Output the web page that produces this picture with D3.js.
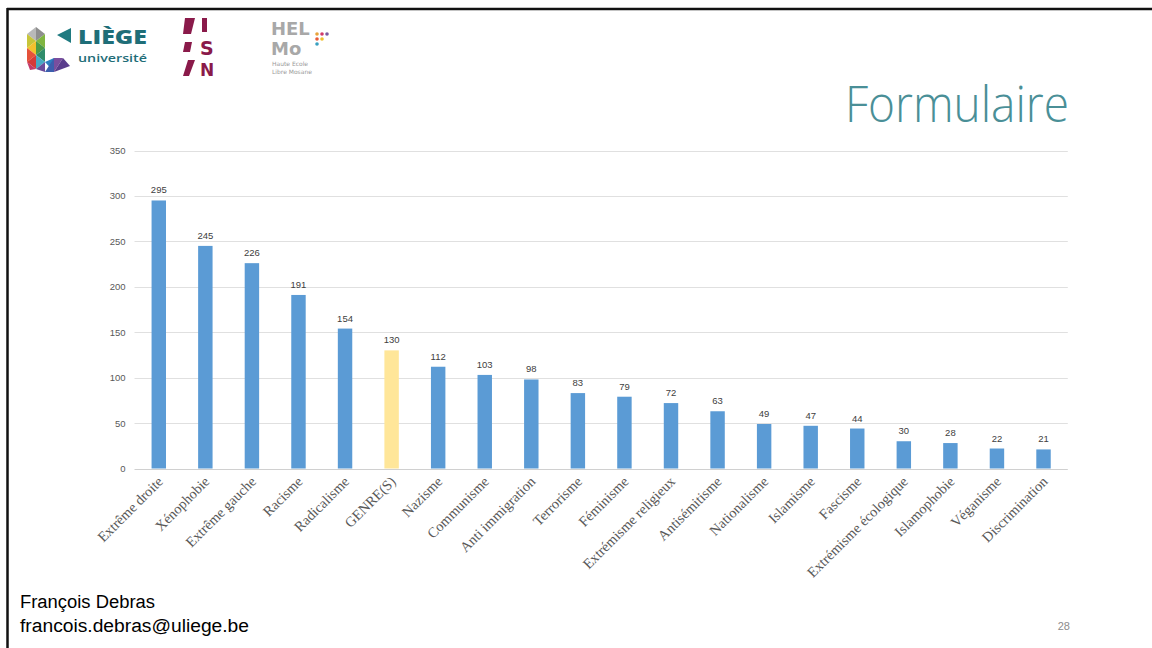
<!DOCTYPE html>
<html><head><meta charset="utf-8">
<script src="https://cdn.jsdelivr.net/npm/d3@7"></script>
<style>
html,body{margin:0;padding:0;background:#fff;}
svg{display:block;}
</style></head>
<body>
<script>
const categories = ["Extrême droite","Xénophobie","Extrême gauche","Racisme","Radicalisme","GENRE(S)","Nazisme","Communisme","Anti immigration","Terrorisme","Féminisme","Extrémisme religieux","Antisémitisme","Nationalisme","Islamisme","Fascisme","Extrémisme écologique","Islamophobie","Véganisme","Discrimination"];
const values = [295,245,226,191,154,130,112,103,98,83,79,72,63,49,47,44,30,28,22,21];
const highlight = ["GENRE(S)"];
const yTicks = [0,50,100,150,200,250,300,350];

(function(){
const W = 1152, H = 648;
const svg = d3.select("body").append("svg").attr("width", W).attr("height", H);
svg.append("rect").attr("width", W).attr("height", H).attr("fill", "#fff");

// slide border (top & left)
svg.append("line").attr("x1",7).attr("x2",W).attr("y1",9).attr("y2",9).attr("stroke","#111").attr("stroke-width",2.5);
svg.append("line").attr("x1",7.5).attr("x2",7.5).attr("y1",8).attr("y2",H).attr("stroke","#111").attr("stroke-width",2.5);

// ---- Logos ----
const lg = svg.append("g");
const tri = [
 [[27,34],[36,27],[36,41],"#b9b9b9"],[[36,27],[45,34],[36,41],"#8e8e8e"],
 [[27,34],[36,41],[27,48],"#c7c53a"],[[36,41],[45,34],[45,48],"#7fb541"],
 [[27,48],[36,41],[36,55],"#f2c12e"],[[36,41],[45,48],[36,55],"#4c9a45"],
 [[27,48],[36,55],[27,62],"#e5523a"],[[36,55],[45,48],[45,62],"#2f8c6a"],
 [[27,62],[36,55],[36,69],"#d63a3a"],[[36,55],[45,62],[36,69],"#48a9c5"],
 [[36,69],[45,62],[45,72],"#6a4b9b"],[[45,62],[54,58],[54,72],"#2e7fc0"],
 [[45,72],[54,58],[54,72],"#3d5fae"],[[54,58],[63,58],[54,72],"#7a4e9e"],
 [[54,72],[63,58],[70,66],"#5a3d8c"],[[27,62],[36,69],[30,70],"#c43a6a"]
];
tri.forEach(t => lg.append("polygon").attr("points",[t[0],t[1],t[2]].map(p=>p.join(",")).join(" ")).attr("fill",t[3]));
lg.append("polygon").attr("points","57,35 71,28 71,43").attr("fill","#1f7a80");
lg.append("text").attr("x",78).attr("y",44).attr("font-family","Open Sans, sans-serif").attr("font-weight",800).attr("font-size",19)
  .attr("textLength",69).attr("lengthAdjust","spacingAndGlyphs").attr("fill","#1f6e78").text("LIÈGE");
lg.append("text").attr("x",78).attr("y",62).attr("font-family","Open Sans, sans-serif").attr("font-weight",600).attr("font-size",11)
  .attr("textLength",69).attr("lengthAdjust","spacingAndGlyphs").attr("fill","#1f6e78").text("université");
// USN
const mar = "#8a1a4a";
lg.append("polygon").attr("points","185,18 195,18 191,34 183,34").attr("fill",mar);
lg.append("polygon").attr("points","185,42 192,42 190,52 183,52").attr("fill",mar);
lg.append("polygon").attr("points","188,60 195,60 189,76 183,76").attr("fill",mar);
lg.append("rect").attr("x",202).attr("y",18).attr("width",5).attr("height",14).attr("fill",mar);
lg.append("text").attr("x",200).attr("y",55).attr("font-family","DejaVu Sans, sans-serif").attr("font-weight",700).attr("font-size",19).attr("fill",mar).text("S");
lg.append("text").attr("x",200).attr("y",76).attr("font-family","DejaVu Sans, sans-serif").attr("font-weight",700).attr("font-size",17).attr("fill",mar).text("N");
// HELMo
lg.append("text").attr("x",271).attr("y",35).attr("font-family","DejaVu Sans, sans-serif").attr("font-weight",700).attr("font-size",18).attr("fill","#a8a8a8").text("HEL");
lg.append("text").attr("x",271).attr("y",55).attr("font-family","DejaVu Sans, sans-serif").attr("font-weight",700).attr("font-size",18).attr("fill","#a8a8a8").text("Mo");
[[317,34,"#e8a33a"],[322,34,"#d23a6a"],[327,34,"#7a5aa0"],[317,39,"#e85a3a"],[322,39,"#f0c030"],[317,44,"#3aa0c0"]].forEach(d=>lg.append("circle").attr("cx",d[0]).attr("cy",d[1]).attr("r",1.8).attr("fill",d[2]));
lg.append("text").attr("x",272).attr("y",66).attr("font-family","DejaVu Sans, sans-serif").attr("font-size",6).attr("fill","#9a9a9a").text("Haute Ecole");
lg.append("text").attr("x",272).attr("y",74).attr("font-family","DejaVu Sans, sans-serif").attr("font-size",6).attr("fill","#9a9a9a").text("Libre Mosane");

// Title
svg.append("text").attr("x",1069).attr("y",122).attr("text-anchor","end")
  .attr("font-family","Open Sans, sans-serif").attr("font-weight",300).attr("font-size",50)
  .attr("textLength",224).attr("lengthAdjust","spacingAndGlyphs")
  .attr("fill","#4a8f97").text("Formulaire");

// ---- Chart ----
const pL = 135.5, pR = 1066.8, pT = 150.5, pB = 468.5;
const x = d3.scaleBand().domain(categories).range([pL, pR]).paddingInner(0.69).paddingOuter(0.345);
const y = d3.scaleLinear().domain([0,350]).range([pB, pT]);

const g = svg.append("g");
g.selectAll("line.grid").data(yTicks).join("line")
  .attr("x1", pL - 1).attr("x2", pR + 1)
  .attr("y1", d => Math.round(y(d)) + 0.5).attr("y2", d => Math.round(y(d)) + 0.5)
  .attr("stroke", d => d === 0 ? "#d0d0d0" : "#e0e0e0").attr("stroke-width", 1);

const yAxis = d3.axisLeft(y).tickValues(yTicks).tickSize(0).tickPadding(0);
const ya = g.append("g").attr("transform", `translate(${pL - 10},0)`).call(yAxis);
ya.select(".domain").remove();
ya.selectAll("text").attr("font-family","Liberation Sans, Arial, sans-serif").attr("font-size",9.5).attr("fill","#595959").attr("dy","0.32em");

g.selectAll("rect.bar").data(categories).join("rect")
  .attr("x", d => x(d)).attr("width", x.bandwidth())
  .attr("y", (d,i) => y(values[i])).attr("height", (d,i) => y(0) - y(values[i]))
  .attr("fill", d => highlight.includes(d) ? "#ffe699" : "#5b9bd5");

g.selectAll("text.val").data(categories).join("text")
  .attr("x", d => x(d) + x.bandwidth()/2).attr("y", (d,i) => y(values[i]) - 7)
  .attr("text-anchor","middle").attr("font-family","Liberation Sans, Arial, sans-serif")
  .attr("font-size",9.5).attr("fill","#404040").text((d,i) => values[i]);

const xAxis = d3.axisBottom(x).tickSize(0).tickPadding(0);
const xa = g.append("g").attr("transform", `translate(0,${pB})`).call(xAxis);
xa.select(".domain").remove();
xa.selectAll("text")
  .attr("font-family","Liberation Serif, Times New Roman, serif").attr("font-size",14.3).attr("fill","#595959")
  .attr("text-anchor","end").attr("dy",0).attr("y",0)
  .attr("transform","translate(5,14) rotate(-45)");

svg.append("text").attr("x",20).attr("y",608).attr("font-family","Liberation Sans, Arial, sans-serif").attr("font-size",18)
  .attr("textLength",135).attr("lengthAdjust","spacingAndGlyphs").attr("fill","#000").text("François Debras");
svg.append("text").attr("x",20).attr("y",632).attr("font-family","Liberation Sans, Arial, sans-serif").attr("font-size",18)
  .attr("textLength",229).attr("lengthAdjust","spacingAndGlyphs").attr("fill","#000").text("francois.debras@uliege.be");
svg.append("text").attr("x",1070).attr("y",630).attr("text-anchor","end").attr("font-family","Liberation Sans, Arial, sans-serif").attr("font-size",11).attr("fill","#8c8c8c").text("28");
})();
</script>
</body></html>
